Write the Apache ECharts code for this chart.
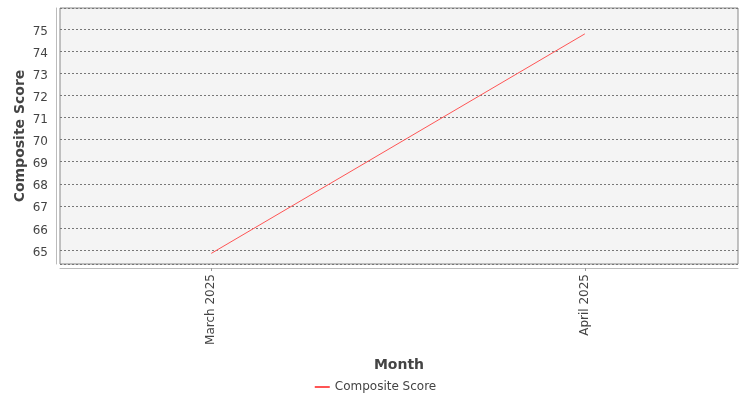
<!DOCTYPE html>
<html>
<head>
    <meta charset="utf-8">
    <title>Composite Score</title>
    <script src="https://cdn.jsdelivr.net/npm/echarts@6/dist/echarts.min.js"></script>
</head>
<body style="margin:0">
    <div id="main" style="width:750px;height:400px;"></div>
    <script type="text/javascript">
        var months = ['March 2025', 'April 2025'];
        var scores = [64.85, 74.78];
        var yTicks = [65, 66, 67, 68, 69, 70, 71, 72, 73, 74, 75];

        var font = 'DejaVu Sans';
        var myChart = echarts.init(document.getElementById('main'));

        // x is a value axis so the two months sit where the original puts them
        var xIdx = months.map(function (m, i) { return i; });
        var points = scores.map(function (v, i) { return [i, v]; });

        var option = {
            animation: false,
            textStyle: { fontFamily: font },
            legend: {
                bottom: 2,
                left: 'center',
                itemWidth: 15,
                itemHeight: 2,
                itemGap: 4,
                textStyle: { fontFamily: font, fontSize: 12, color: '#444' },
                data: ['Composite Score']
            },
            grid: {
                left: 60,
                right: 12,
                top: 8,
                bottom: 136,
                outerBoundsMode: 'none',
                show: true,
                backgroundColor: '#f4f4f4',
                borderColor: '#888',
                borderWidth: 1
            },
            xAxis: {
                type: 'value',
                min: -0.405,
                max: 1.41,
                offset: 4,
                name: 'Month',
                nameLocation: 'middle',
                nameGap: 90,
                nameTextStyle: { fontFamily: font, fontSize: 14, fontWeight: 'bold', color: '#444' },
                axisLine: { show: true, onZero: false, lineStyle: { color: '#bbb' } },
                axisTick: { show: true, length: 3, customValues: xIdx, lineStyle: { color: '#999' } },
                axisLabel: {
                    customValues: xIdx,
                    rotate: 90,
                    margin: 6,
                    fontSize: 12,
                    color: '#444',
                    formatter: function (v) { return months[Math.round(v)]; }
                },
                splitLine: { show: false }
            },
            yAxis: {
                type: 'value',
                min: 64.37,
                max: 75.95,
                offset: 4,
                name: 'Composite Score',
                nameLocation: 'middle',
                nameGap: 29,
                nameMoveOverlap: false,
                nameTextStyle: { fontFamily: font, fontSize: 14, fontWeight: 'bold', color: '#444' },
                axisLine: { show: true, onZero: false, lineStyle: { color: '#bbb' } },
                axisTick: { show: false },
                axisLabel: {
                    customValues: yTicks,
                    margin: 8,
                    fontSize: 12,
                    color: '#444',
                    formatter: function (v) { return '{t|' + v + '}'; },
                    rich: { t: { fontFamily: font, fontSize: 12, color: '#444', padding: [5, 0, 0, 0] } }
                },
                splitNumber: 12,
                splitLine: { show: true, lineStyle: { color: '#777', type: [2, 2], width: 1 } }
            },
            series: [
                {
                    name: 'Composite Score',
                    type: 'line',
                    symbol: 'none',
                    data: points,
                    lineStyle: { color: '#ff5555', width: 1 },
                    itemStyle: { color: '#ff5555' }
                }
            ]
        };

        myChart.setOption(option);
    </script>
</body>
</html>
